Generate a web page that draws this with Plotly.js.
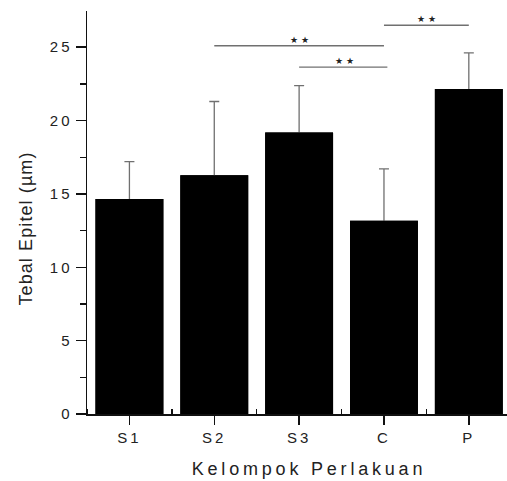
<!DOCTYPE html>
<html>
<head>
<meta charset="utf-8">
<script src="https://cdn.plot.ly/plotly-3.0.1.min.js"></script>
<style>
  html, body { margin: 0; padding: 0; background: #fff; }
  #chart { width: 507px; height: 481px; }
  .xtitle { letter-spacing: 3.8px; }
  .ytitle { letter-spacing: 1.1px; }
  .xtick text, .ytick text { letter-spacing: 3px; }
</style>
</head>
<body>
<div id="chart"></div>
<script>
// Data
const categories = ["S1", "S2", "S3", "C", "P"];
const means = [14.65, 16.28, 19.19, 13.17, 22.16];
const errors = [2.55, 5.02, 3.2, 3.54, 2.45];

// Significance brackets: [from category index, to category index, y level, label]
const sigFrom = [1, 2, 3];
const sigTo = [3, 3, 4];
const sigY = [25.1, 23.65, 26.5];
const sigLabel = ["★ ★", "★ ★", "★ ★"];

const xIdx = categories.map((c, i) => i);

// Error bars (upper only visible): drawn with the first trace, then the bars
// are drawn again on top so the part inside the bar is hidden.
const errTrace = {
  type: "bar",
  x: xIdx,
  y: means,
  width: 0.8,
  marker: { color: "#000000", line: { width: 0 } },
  error_y: {
    type: "data",
    symmetric: false,
    array: errors,
    arrayminus: means,
    color: "#707070",
    thickness: 1.3,
    width: 5
  },
  hoverinfo: "skip"
};
const barTrace = {
  type: "bar",
  x: xIdx,
  y: means,
  width: 0.8,
  marker: { color: "#000000", line: { width: 0 } },
  hoverinfo: "skip"
};

const shapes = [];
const annotations = [];
for (let i = 0; i < sigFrom.length; i++) {
  shapes.push({
    type: "line", xref: "x", yref: "y",
    x0: sigFrom[i], x1: sigTo[i] + (i === 1 ? 0.04 : 0), y0: sigY[i], y1: sigY[i],
    line: { color: "#707070", width: 1.3 }
  });
  annotations.push({
    xref: "x", yref: "y",
    x: (sigFrom[i] + sigTo[i]) / 2 + (i === 1 ? 0.03 : 0), y: sigY[i],
    text: sigLabel[i], showarrow: false, yanchor: "bottom", yshift: -1,
    font: { family: "DejaVu Sans", size: 9, color: "#222222" }
  });
}

const layout = {
  width: 507, height: 481,
  margin: { l: 87, r: 0, t: 11, b: 67, pad: 0 },
  paper_bgcolor: "#ffffff",
  plot_bgcolor: "#ffffff",
  showlegend: false,
  barmode: "overlay",
  font: { family: "Liberation Sans, Arial, sans-serif", color: "#222222" },
  xaxis: {
    type: "linear",
    range: [-0.5, 4.45],
    tickvals: xIdx,
    ticktext: categories,
    ticks: "outside", ticklen: 9, tickwidth: 1.5, tickcolor: "#111",
    minor: { tick0: 0.5, dtick: 1, ticks: "inside", ticklen: 5, tickwidth: 1.3, tickcolor: "#111" },
    showline: true, linecolor: "#111", linewidth: 1.5,
    showgrid: false, zeroline: false,
    tickfont: { size: 15, color: "#222" },
    title: { text: "Kelompok Perlakuan", font: { size: 18, color: "#222" }, standoff: 18 }
  },
  yaxis: {
    range: [0, 27.47],
    tickvals: [0, 5, 10, 15, 20, 25],
    ticks: "outside", ticklen: 10, tickwidth: 1.5, tickcolor: "#111",
    minor: { tick0: 2.5, dtick: 5, ticks: "outside", ticklen: 6, tickwidth: 1.3, tickcolor: "#111" },
    showline: true, linecolor: "#111", linewidth: 1.5,
    showgrid: false, zeroline: false,
    tickfont: { size: 15, color: "#222" },
    title: { text: "Tebal Epitel (µm)", font: { size: 18, color: "#222" }, standoff: 12 }
  },
  shapes: shapes,
  annotations: annotations
};

Plotly.newPlot("chart", [errTrace, barTrace], layout, { staticPlot: true, displayModeBar: false }).then(() => {
  // Nudge the axis titles to where the reference places them
  const yt = document.querySelector(".ytitle");
  if (yt) {
    const x = parseFloat(yt.getAttribute("x"));
    const y = parseFloat(yt.getAttribute("y")) + 16;
    yt.setAttribute("y", y);
    yt.setAttribute("transform", "rotate(-90," + x + "," + y + ")");
  }
  const xt = document.querySelector(".xtitle");
  if (xt) {
    xt.setAttribute("x", parseFloat(xt.getAttribute("x")) + 12);
  }
});
</script>
</body>
</html>
